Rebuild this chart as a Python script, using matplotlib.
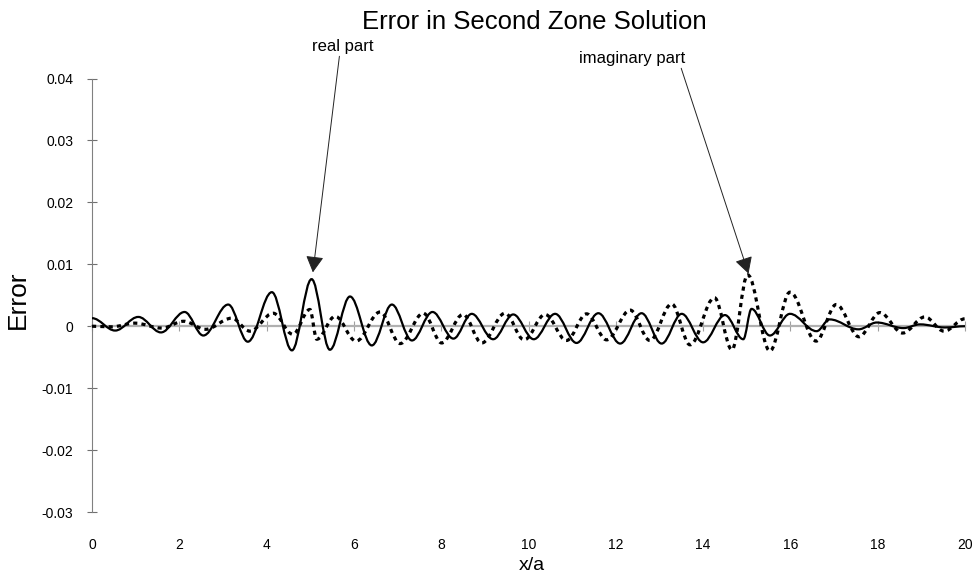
import matplotlib
matplotlib.use('Agg')
import matplotlib.pyplot as plt
from matplotlib.path import Path
from matplotlib.patches import PathPatch

plt.rcParams['font.family'] = ['Liberation Sans', 'DejaVu Sans']

# peaks / troughs (x/a, error)
real_x = [0.00, 0.53, 1.06, 1.58, 2.12, 2.55, 3.12, 3.57, 4.12, 4.58, 5.03, 5.45,
          5.91, 6.41, 6.87, 7.33, 7.80, 8.28, 8.70, 9.19, 9.65, 10.12, 10.61, 11.10,
          11.60, 12.10, 12.59, 13.05, 13.51, 14.00, 14.50, 14.92, 15.11, 15.53, 15.99,
          16.60, 16.90, 17.56, 17.98, 18.59, 18.97, 19.54, 20.00]
real_y = [0.0013, -0.0007, 0.0015, -0.0010, 0.0023, -0.0015, 0.0035, -0.0025, 0.0055,
          -0.0039, 0.0076, -0.0038, 0.0048, -0.0031, 0.0035, -0.0023, 0.0023, -0.0020,
          0.0020, -0.0021, 0.0019, -0.0021, 0.0020, -0.0027, 0.0021, -0.0028, 0.0021,
          -0.0028, 0.0020, -0.0026, 0.0018, -0.0021, 0.0028, -0.0015, 0.0020, -0.0008,
          0.0011, -0.0005, 0.0006, -0.0003, 0.0003, -0.0002, 0.0000]

imag_x = [0.00, 0.45, 0.98, 1.60, 2.10, 2.60, 3.20, 3.62, 4.15, 4.60, 4.99, 5.15, 5.57,
          6.05, 6.60, 7.06, 7.59, 8.01, 8.50, 8.93, 9.46, 9.90, 10.38, 10.87, 11.33,
          11.79, 12.33, 12.78, 13.28, 13.70, 14.26, 14.66, 15.02, 15.53, 15.99, 16.59,
          17.05, 17.57, 18.05, 18.57, 19.08, 19.52, 20.00]
imag_y = [0.0000, -0.0001, 0.0005, -0.0003, 0.0008, -0.0005, 0.0013, -0.0008, 0.0021,
          -0.0013, 0.0027, -0.0021, 0.0016, -0.0024, 0.0023, -0.0028, 0.0021, -0.0027,
          0.0019, -0.0027, 0.0021, -0.0022, 0.0019, -0.0023, 0.0020, -0.0022, 0.0026,
          -0.0023, 0.0036, -0.0030, 0.0046, -0.0038, 0.0083, -0.0040, 0.0055, -0.0024,
          0.0035, -0.0017, 0.0022, -0.0011, 0.0015, -0.0008, 0.0012]

x_ticks = [0, 2, 4, 6, 8, 10, 12, 14, 16, 18, 20]
y_ticks = [-0.03, -0.02, -0.01, 0, 0.01, 0.02, 0.03, 0.04]
y_labels = ['-0.03', '-0.02', '-0.01', '0', '0.01', '0.02', '0.03', '0.04']


def smooth_path(xs, ys):
    # smoothed line like the spreadsheet one: bezier through the points
    verts = [(xs[0], ys[0])]
    codes = [Path.MOVETO]
    for i in range(1, len(xs)):
        d = 0.36 * (xs[i] - xs[i - 1])
        verts += [(xs[i - 1] + d, ys[i - 1]), (xs[i] - d, ys[i]), (xs[i], ys[i])]
        codes += [Path.CURVE4] * 3
    return Path(verts, codes)


fig = plt.figure(figsize=(9.8, 5.79), dpi=100)
ax = fig.add_axes([0.0939, 0.1157, 0.8908, 0.7487])

ax.add_patch(PathPatch(smooth_path(real_x, real_y), fill=False, lw=1.6,
                       color='black', transform=ax.transData, zorder=3))
ax.add_patch(PathPatch(smooth_path(imag_x, imag_y), fill=False, lw=2.3,
                       color='black', linestyle=(0, (1.3, 1.3)), capstyle='butt',
                       transform=ax.transData, zorder=3))

ax.set_xlim(0, 20)
ax.set_ylim(-0.03, 0.04)

# x axis through zero, labels kept at the bottom
ax.spines['bottom'].set_position(('data', 0))
ax.spines['bottom'].set_color('#b0b0b0')
ax.spines['bottom'].set_linewidth(1.6)
ax.spines['left'].set_color('#808080')
ax.spines['right'].set_color('none')
ax.spines['top'].set_color('none')

ax.set_xticks(x_ticks)
ax.tick_params(axis='x', direction='inout', length=7, color='#a0a0a0',
               labelbottom=False)
ax.set_yticks(y_ticks)
ax.set_yticklabels(y_labels)
ax.tick_params(axis='y', direction='inout', length=7, color='#707070',
               labelsize=10, pad=10)

sec = ax.secondary_xaxis('bottom')
sec.spines['bottom'].set_visible(False)
sec.set_xticks(x_ticks)
sec.tick_params(length=0, pad=19, labelsize=10)

fig.text(0.545, 1 - 22 / 579, 'Error in Second Zone Solution', fontsize=18.5,
         ha='center', va='center')
fig.text(18 / 980, 1 - 300 / 579, 'Error', fontsize=19, rotation=90,
         ha='center', va='center')
fig.text(532 / 980, 1 - 565 / 579, 'x/a', fontsize=14, ha='center', va='center')

ax.annotate('real part', xy=(5.06, 0.0087), xycoords='data',
            xytext=(343 / 980, 1 - 46 / 579), textcoords='figure fraction',
            fontsize=12, ha='center', va='center',
            arrowprops=dict(arrowstyle='-|>,head_length=1.0,head_width=0.55',
                            mutation_scale=10, lw=0.7, color='#222222',
                            shrinkA=0, shrinkB=0, relpos=(0.45, 0.1)))
ax.annotate('imaginary part', xy=(15.04, 0.0085), xycoords='data',
            xytext=(632 / 980, 1 - 58 / 579), textcoords='figure fraction',
            fontsize=12, ha='center', va='center',
            arrowprops=dict(arrowstyle='-|>,head_length=1.0,head_width=0.55',
                            mutation_scale=10, lw=0.7, color='#222222',
                            shrinkA=0, shrinkB=0, relpos=(0.95, 0.1)))

fig.savefig('out.png', dpi=100)
